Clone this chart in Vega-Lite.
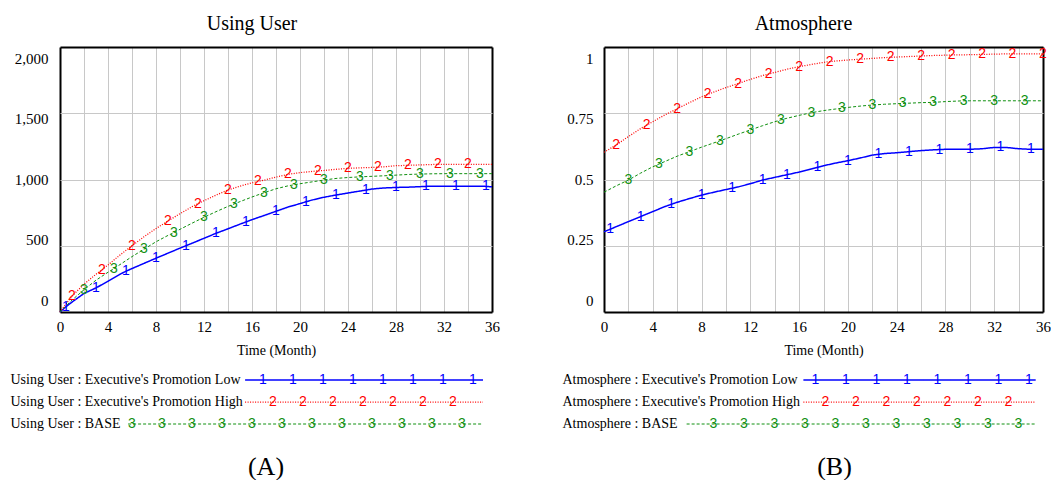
{
  "$schema": "https://vega.github.io/schema/vega-lite/v6.json",
  "padding": {"left": 10, "top": 13, "right": 0, "bottom": 0},
  "background": "white",
  "config": {
    "font": "Liberation Serif",
    "view": {"stroke": null},
    "axis": {"labelFont": "Liberation Serif", "labelColor": "black", "titleFont": "Liberation Serif", "titleColor": "black", "titleFontWeight": "normal", "domain": false, "ticks": false, "tickSize": 0},
    "title": {"font": "Liberation Serif", "fontWeight": "normal", "color": "black"}
  },
  "datasets": {
    "sim": [
      {"p":"U","s":"1","t":0,"v":0},{"p":"U","s":"1","t":0.5,"v":40,"mk":1},{"p":"U","s":"1","t":1,"v":75},{"p":"U","s":"1","t":2,"v":140},{"p":"U","s":"1","t":3,"v":182,"mk":1},{"p":"U","s":"1","t":4,"v":232},{"p":"U","s":"1","t":5,"v":285},{"p":"U","s":"1","t":5.5,"v":308,"mk":1},{"p":"U","s":"1","t":6,"v":328},{"p":"U","s":"1","t":7,"v":367},{"p":"U","s":"1","t":8,"v":406,"mk":1},{"p":"U","s":"1","t":9,"v":444},{"p":"U","s":"1","t":10,"v":482},{"p":"U","s":"1","t":10.5,"v":500,"mk":1},{"p":"U","s":"1","t":11,"v":519},{"p":"U","s":"1","t":12,"v":556},{"p":"U","s":"1","t":13,"v":594,"mk":1},{"p":"U","s":"1","t":14,"v":628},{"p":"U","s":"1","t":15,"v":663},{"p":"U","s":"1","t":15.5,"v":680,"mk":1},{"p":"U","s":"1","t":16,"v":697},{"p":"U","s":"1","t":17,"v":728},{"p":"U","s":"1","t":18,"v":760,"mk":1},{"p":"U","s":"1","t":19,"v":792},{"p":"U","s":"1","t":20,"v":818},{"p":"U","s":"1","t":20.5,"v":832,"mk":1},{"p":"U","s":"1","t":21,"v":845},{"p":"U","s":"1","t":22,"v":866},{"p":"U","s":"1","t":23,"v":883,"mk":1},{"p":"U","s":"1","t":24,"v":898},{"p":"U","s":"1","t":25,"v":913},{"p":"U","s":"1","t":25.5,"v":920,"mk":1},{"p":"U","s":"1","t":26,"v":928},{"p":"U","s":"1","t":27,"v":936},{"p":"U","s":"1","t":28,"v":940,"mk":1},{"p":"U","s":"1","t":29,"v":942},{"p":"U","s":"1","t":30,"v":946},{"p":"U","s":"1","t":30.5,"v":948,"mk":1},{"p":"U","s":"1","t":31,"v":950},{"p":"U","s":"1","t":32,"v":950},{"p":"U","s":"1","t":33,"v":950,"mk":1},{"p":"U","s":"1","t":34,"v":950},{"p":"U","s":"1","t":35,"v":950},{"p":"U","s":"1","t":35.5,"v":948,"mk":1},{"p":"U","s":"1","t":36,"v":945},
      {"p":"U","s":"2","t":0,"v":0},{"p":"U","s":"2","t":1,"v":120,"mk":1},{"p":"U","s":"2","t":2,"v":210},{"p":"U","s":"2","t":3,"v":285},{"p":"U","s":"2","t":3.5,"v":318,"mk":1},{"p":"U","s":"2","t":4,"v":355},{"p":"U","s":"2","t":5,"v":430},{"p":"U","s":"2","t":6,"v":500,"mk":1},{"p":"U","s":"2","t":7,"v":568},{"p":"U","s":"2","t":8,"v":630},{"p":"U","s":"2","t":9,"v":687,"mk":1},{"p":"U","s":"2","t":10,"v":742},{"p":"U","s":"2","t":11,"v":795},{"p":"U","s":"2","t":11.5,"v":818,"mk":1},{"p":"U","s":"2","t":12,"v":840},{"p":"U","s":"2","t":13,"v":882},{"p":"U","s":"2","t":14,"v":921,"mk":1},{"p":"U","s":"2","t":15,"v":950},{"p":"U","s":"2","t":16,"v":975},{"p":"U","s":"2","t":16.5,"v":985,"mk":1},{"p":"U","s":"2","t":17,"v":995},{"p":"U","s":"2","t":18,"v":1018},{"p":"U","s":"2","t":19,"v":1039,"mk":1},{"p":"U","s":"2","t":20,"v":1052},{"p":"U","s":"2","t":21,"v":1061},{"p":"U","s":"2","t":21.5,"v":1065,"mk":1},{"p":"U","s":"2","t":22,"v":1068},{"p":"U","s":"2","t":23,"v":1077},{"p":"U","s":"2","t":24,"v":1084,"mk":1},{"p":"U","s":"2","t":25,"v":1088},{"p":"U","s":"2","t":26,"v":1091},{"p":"U","s":"2","t":26.5,"v":1093,"mk":1},{"p":"U","s":"2","t":27,"v":1096},{"p":"U","s":"2","t":28,"v":1104},{"p":"U","s":"2","t":29,"v":1107,"mk":1},{"p":"U","s":"2","t":30,"v":1110},{"p":"U","s":"2","t":31,"v":1113},{"p":"U","s":"2","t":31.5,"v":1114,"mk":1},{"p":"U","s":"2","t":32,"v":1115},{"p":"U","s":"2","t":33,"v":1115},{"p":"U","s":"2","t":34,"v":1115,"mk":1},{"p":"U","s":"2","t":35,"v":1115},{"p":"U","s":"2","t":36,"v":1115},
      {"p":"U","s":"3","t":0,"v":0},{"p":"U","s":"3","t":1,"v":90},{"p":"U","s":"3","t":2,"v":168,"mk":1},{"p":"U","s":"3","t":3,"v":240},{"p":"U","s":"3","t":4,"v":300},{"p":"U","s":"3","t":4.5,"v":328,"mk":1},{"p":"U","s":"3","t":5,"v":358},{"p":"U","s":"3","t":6,"v":418},{"p":"U","s":"3","t":7,"v":474,"mk":1},{"p":"U","s":"3","t":8,"v":530},{"p":"U","s":"3","t":9,"v":578},{"p":"U","s":"3","t":9.5,"v":600,"mk":1},{"p":"U","s":"3","t":10,"v":624},{"p":"U","s":"3","t":11,"v":670},{"p":"U","s":"3","t":12,"v":715,"mk":1},{"p":"U","s":"3","t":13,"v":757},{"p":"U","s":"3","t":14,"v":797},{"p":"U","s":"3","t":14.5,"v":815,"mk":1},{"p":"U","s":"3","t":15,"v":833},{"p":"U","s":"3","t":16,"v":868},{"p":"U","s":"3","t":17,"v":900,"mk":1},{"p":"U","s":"3","t":18,"v":930},{"p":"U","s":"3","t":19,"v":952},{"p":"U","s":"3","t":19.5,"v":960,"mk":1},{"p":"U","s":"3","t":20,"v":968},{"p":"U","s":"3","t":21,"v":982},{"p":"U","s":"3","t":22,"v":996,"mk":1},{"p":"U","s":"3","t":23,"v":1008},{"p":"U","s":"3","t":24,"v":1015},{"p":"U","s":"3","t":25,"v":1020,"mk":1},{"p":"U","s":"3","t":26,"v":1024},{"p":"U","s":"3","t":27,"v":1028},{"p":"U","s":"3","t":27.5,"v":1030,"mk":1},{"p":"U","s":"3","t":28,"v":1033},{"p":"U","s":"3","t":29,"v":1038},{"p":"U","s":"3","t":30,"v":1041,"mk":1},{"p":"U","s":"3","t":31,"v":1043},{"p":"U","s":"3","t":32,"v":1044},{"p":"U","s":"3","t":32.5,"v":1044,"mk":1},{"p":"U","s":"3","t":33,"v":1044},{"p":"U","s":"3","t":34,"v":1044},{"p":"U","s":"3","t":35,"v":1044,"mk":1},{"p":"U","s":"3","t":36,"v":1044},
      {"p":"A","s":"1","t":0,"v":0.303},{"p":"A","s":"1","t":0.5,"v":0.312,"mk":1},{"p":"A","s":"1","t":1,"v":0.322},{"p":"A","s":"1","t":2,"v":0.341},{"p":"A","s":"1","t":3,"v":0.36,"mk":1},{"p":"A","s":"1","t":4,"v":0.379},{"p":"A","s":"1","t":5,"v":0.398},{"p":"A","s":"1","t":5.5,"v":0.406,"mk":1},{"p":"A","s":"1","t":6,"v":0.414},{"p":"A","s":"1","t":7,"v":0.428},{"p":"A","s":"1","t":8,"v":0.441,"mk":1},{"p":"A","s":"1","t":9,"v":0.452},{"p":"A","s":"1","t":10,"v":0.462},{"p":"A","s":"1","t":10.5,"v":0.467,"mk":1},{"p":"A","s":"1","t":11,"v":0.472},{"p":"A","s":"1","t":12,"v":0.484},{"p":"A","s":"1","t":13,"v":0.498,"mk":1},{"p":"A","s":"1","t":14,"v":0.508},{"p":"A","s":"1","t":15,"v":0.518,"mk":1},{"p":"A","s":"1","t":16,"v":0.528},{"p":"A","s":"1","t":17,"v":0.54},{"p":"A","s":"1","t":17.5,"v":0.546,"mk":1},{"p":"A","s":"1","t":18,"v":0.552},{"p":"A","s":"1","t":19,"v":0.562},{"p":"A","s":"1","t":20,"v":0.571,"mk":1},{"p":"A","s":"1","t":21,"v":0.581},{"p":"A","s":"1","t":22,"v":0.592},{"p":"A","s":"1","t":22.5,"v":0.595,"mk":1},{"p":"A","s":"1","t":23,"v":0.598},{"p":"A","s":"1","t":24,"v":0.601},{"p":"A","s":"1","t":25,"v":0.605,"mk":1},{"p":"A","s":"1","t":26,"v":0.609},{"p":"A","s":"1","t":27,"v":0.612},{"p":"A","s":"1","t":27.5,"v":0.613,"mk":1},{"p":"A","s":"1","t":28,"v":0.614},{"p":"A","s":"1","t":29,"v":0.614},{"p":"A","s":"1","t":30,"v":0.614,"mk":1},{"p":"A","s":"1","t":31,"v":0.616},{"p":"A","s":"1","t":32,"v":0.621},{"p":"A","s":"1","t":32.5,"v":0.621,"mk":1},{"p":"A","s":"1","t":33,"v":0.621},{"p":"A","s":"1","t":34,"v":0.616},{"p":"A","s":"1","t":35,"v":0.614,"mk":1},{"p":"A","s":"1","t":36,"v":0.614},
      {"p":"A","s":"2","t":0,"v":0.603},{"p":"A","s":"2","t":1,"v":0.63,"mk":1},{"p":"A","s":"2","t":2,"v":0.662},{"p":"A","s":"2","t":3,"v":0.692},{"p":"A","s":"2","t":3.5,"v":0.705,"mk":1},{"p":"A","s":"2","t":4,"v":0.718},{"p":"A","s":"2","t":5,"v":0.744},{"p":"A","s":"2","t":6,"v":0.767,"mk":1},{"p":"A","s":"2","t":7,"v":0.79},{"p":"A","s":"2","t":8,"v":0.812},{"p":"A","s":"2","t":8.5,"v":0.821,"mk":1},{"p":"A","s":"2","t":9,"v":0.83},{"p":"A","s":"2","t":10,"v":0.847},{"p":"A","s":"2","t":11,"v":0.862,"mk":1},{"p":"A","s":"2","t":12,"v":0.878},{"p":"A","s":"2","t":13,"v":0.892},{"p":"A","s":"2","t":13.5,"v":0.898,"mk":1},{"p":"A","s":"2","t":14,"v":0.904},{"p":"A","s":"2","t":15,"v":0.916},{"p":"A","s":"2","t":16,"v":0.926,"mk":1},{"p":"A","s":"2","t":17,"v":0.934},{"p":"A","s":"2","t":18,"v":0.942},{"p":"A","s":"2","t":18.5,"v":0.945,"mk":1},{"p":"A","s":"2","t":19,"v":0.947},{"p":"A","s":"2","t":20,"v":0.951},{"p":"A","s":"2","t":21,"v":0.954,"mk":1},{"p":"A","s":"2","t":22,"v":0.957},{"p":"A","s":"2","t":23,"v":0.96},{"p":"A","s":"2","t":23.5,"v":0.961,"mk":1},{"p":"A","s":"2","t":24,"v":0.962},{"p":"A","s":"2","t":25,"v":0.964},{"p":"A","s":"2","t":26,"v":0.966,"mk":1},{"p":"A","s":"2","t":27,"v":0.968},{"p":"A","s":"2","t":28,"v":0.969},{"p":"A","s":"2","t":28.5,"v":0.97,"mk":1},{"p":"A","s":"2","t":29,"v":0.97},{"p":"A","s":"2","t":30,"v":0.971},{"p":"A","s":"2","t":31,"v":0.972,"mk":1},{"p":"A","s":"2","t":32,"v":0.973},{"p":"A","s":"2","t":33,"v":0.974},{"p":"A","s":"2","t":33.5,"v":0.974,"mk":1},{"p":"A","s":"2","t":34,"v":0.974},{"p":"A","s":"2","t":35,"v":0.974},{"p":"A","s":"2","t":36,"v":0.974,"mk":1},
      {"p":"A","s":"3","t":0,"v":0.452},{"p":"A","s":"3","t":1,"v":0.476},{"p":"A","s":"3","t":2,"v":0.498,"mk":1},{"p":"A","s":"3","t":3,"v":0.524},{"p":"A","s":"3","t":4,"v":0.548},{"p":"A","s":"3","t":4.5,"v":0.558,"mk":1},{"p":"A","s":"3","t":5,"v":0.568},{"p":"A","s":"3","t":6,"v":0.588},{"p":"A","s":"3","t":7,"v":0.605,"mk":1},{"p":"A","s":"3","t":8,"v":0.622},{"p":"A","s":"3","t":9,"v":0.638},{"p":"A","s":"3","t":9.5,"v":0.646,"mk":1},{"p":"A","s":"3","t":10,"v":0.654},{"p":"A","s":"3","t":11,"v":0.671},{"p":"A","s":"3","t":12,"v":0.687,"mk":1},{"p":"A","s":"3","t":13,"v":0.703},{"p":"A","s":"3","t":14,"v":0.718},{"p":"A","s":"3","t":14.5,"v":0.725,"mk":1},{"p":"A","s":"3","t":15,"v":0.731},{"p":"A","s":"3","t":16,"v":0.742},{"p":"A","s":"3","t":17,"v":0.752,"mk":1},{"p":"A","s":"3","t":18,"v":0.76},{"p":"A","s":"3","t":19,"v":0.766},{"p":"A","s":"3","t":19.5,"v":0.769,"mk":1},{"p":"A","s":"3","t":20,"v":0.772},{"p":"A","s":"3","t":21,"v":0.777},{"p":"A","s":"3","t":22,"v":0.781,"mk":1},{"p":"A","s":"3","t":23,"v":0.784},{"p":"A","s":"3","t":24,"v":0.786},{"p":"A","s":"3","t":24.5,"v":0.787,"mk":1},{"p":"A","s":"3","t":25,"v":0.788},{"p":"A","s":"3","t":26,"v":0.79},{"p":"A","s":"3","t":27,"v":0.791,"mk":1},{"p":"A","s":"3","t":28,"v":0.794},{"p":"A","s":"3","t":29,"v":0.796},{"p":"A","s":"3","t":29.5,"v":0.797,"mk":1},{"p":"A","s":"3","t":30,"v":0.797},{"p":"A","s":"3","t":31,"v":0.797},{"p":"A","s":"3","t":32,"v":0.797,"mk":1},{"p":"A","s":"3","t":33,"v":0.797},{"p":"A","s":"3","t":34,"v":0.797},{"p":"A","s":"3","t":34.5,"v":0.797,"mk":1},{"p":"A","s":"3","t":35,"v":0.797},{"p":"A","s":"3","t":36,"v":0.797}
    ],
    "leg": [
      {"p":"U","s":"1","k":7},{"p":"U","s":"1","k":8},{"p":"U","s":"1","k":9},{"p":"U","s":"1","k":10},{"p":"U","s":"1","k":11},{"p":"U","s":"1","k":12},{"p":"U","s":"1","k":13},{"p":"U","s":"1","k":14},
      {"p":"U","s":"2","k":7},{"p":"U","s":"2","k":8},{"p":"U","s":"2","k":9},{"p":"U","s":"2","k":10},{"p":"U","s":"2","k":11},{"p":"U","s":"2","k":12},{"p":"U","s":"2","k":13},
      {"p":"U","s":"3","k":2},{"p":"U","s":"3","k":3},{"p":"U","s":"3","k":4},{"p":"U","s":"3","k":5},{"p":"U","s":"3","k":6},{"p":"U","s":"3","k":7},{"p":"U","s":"3","k":8},{"p":"U","s":"3","k":9},{"p":"U","s":"3","k":10},{"p":"U","s":"3","k":11},{"p":"U","s":"3","k":12},{"p":"U","s":"3","k":13},
      {"p":"A","s":"1","k":7},{"p":"A","s":"1","k":8},{"p":"A","s":"1","k":9},{"p":"A","s":"1","k":10},{"p":"A","s":"1","k":11},{"p":"A","s":"1","k":12},{"p":"A","s":"1","k":13},{"p":"A","s":"1","k":14},
      {"p":"A","s":"2","k":7},{"p":"A","s":"2","k":8},{"p":"A","s":"2","k":9},{"p":"A","s":"2","k":10},{"p":"A","s":"2","k":11},{"p":"A","s":"2","k":12},{"p":"A","s":"2","k":13},
      {"p":"A","s":"3","k":3},{"p":"A","s":"3","k":4},{"p":"A","s":"3","k":5},{"p":"A","s":"3","k":6},{"p":"A","s":"3","k":7},{"p":"A","s":"3","k":8},{"p":"A","s":"3","k":9},{"p":"A","s":"3","k":10},{"p":"A","s":"3","k":11},{"p":"A","s":"3","k":12},{"p":"A","s":"3","k":13}
    ]
  },
  "columns": 2,
  "spacing": {"row": 57, "column": 112},
  "bounds": "flush",
  "concat": [
    {
      "width": 432, "height": 265,
      "title": {"text": "Using User", "fontSize": 20, "anchor": "middle", "frame": "group", "dx": -24, "offset": -3, "baseline": "alphabetic"},
      "data": {"name": "sim"},
      "transform": [{"filter": "datum.p == 'U'"}],
      "encoding": {
        "x": {"field": "t", "type": "quantitative", "scale": {"domain": [0, 36], "nice": false, "zero": false},
          "axis": {"values": [0,2,4,6,8,10,12,14,16,18,20,22,24,26,28,30,32,34,36], "labelExpr": "datum.value % 4 == 0 ? datum.label : ''", "labelFlush": false, "labelOverlap": false, "labelFontSize": 15, "labelPadding": 7, "title": "Time (Month)", "titleFontSize": 14, "titlePadding": 9, "grid": true,
            "gridColor": {"condition": {"test": "datum.value == 0 || datum.value == 36", "value": "black"}, "value": "#c8c8c8"},
            "gridWidth": {"condition": {"test": "datum.value == 0 || datum.value == 36", "value": 2}, "value": 1}}},
        "y": {"field": "v", "type": "quantitative", "scale": {"domain": [0, 2000], "nice": false},
          "axis": {"values": [0, 500, 1000, 1500, 2000], "format": ",d", "labelFontSize": 15, "labelPadding": 12, "labelOffset": {"expr": "-12 + datum.value / 2000 * 23"}, "title": null, "grid": true,
            "gridColor": {"condition": {"test": "datum.value == 0 || datum.value == 2000", "value": "black"}, "value": "#c8c8c8"},
            "gridWidth": {"condition": {"test": "datum.value == 0 || datum.value == 2000", "value": 2}, "value": 1}}},
        "color": {"field": "s", "type": "nominal", "scale": {"domain": ["1", "2", "3"], "range": ["#0000ff", "#ff0000", "#109010"]}, "legend": null}
      },
      "layer": [
        {"mark": {"type": "line"},
          "encoding": {
            "strokeDash": {"field": "s", "type": "nominal", "scale": {"domain": ["1", "2", "3"], "range": [[1, 0], [1, 1.5], [3, 2]]}, "legend": null},
            "strokeWidth": {"field": "s", "type": "nominal", "scale": {"domain": ["1", "2", "3"], "range": [1.5, 1, 1.2]}, "legend": null}}},
        {"transform": [{"filter": "datum.mk == 1"}],
          "mark": {"type": "text", "font": "Liberation Sans", "fontSize": 14, "baseline": "middle", "align": "center"},
          "encoding": {"text": {"field": "s"}}}
      ]
    },
    {
      "width": 439, "height": 265,
      "title": {"text": "Atmosphere", "fontSize": 20, "anchor": "middle", "frame": "group", "dx": -20, "offset": -3, "baseline": "alphabetic"},
      "data": {"name": "sim"},
      "transform": [{"filter": "datum.p == 'A'"}],
      "encoding": {
        "x": {"field": "t", "type": "quantitative", "scale": {"domain": [0, 36], "nice": false, "zero": false},
          "axis": {"values": [0,2,4,6,8,10,12,14,16,18,20,22,24,26,28,30,32,34,36], "labelExpr": "datum.value % 4 == 0 ? datum.label : ''", "labelFlush": false, "labelOverlap": false, "labelFontSize": 15, "labelPadding": 7, "title": "Time (Month)", "titleFontSize": 14, "titlePadding": 9, "grid": true,
            "gridColor": {"condition": {"test": "datum.value == 0 || datum.value == 36", "value": "black"}, "value": "#c8c8c8"},
            "gridWidth": {"condition": {"test": "datum.value == 0 || datum.value == 36", "value": 2}, "value": 1}}},
        "y": {"field": "v", "type": "quantitative", "scale": {"domain": [0, 1], "nice": false},
          "axis": {"values": [0, 0.25, 0.5, 0.75, 1], "format": ".2~f", "labelFontSize": 15, "labelPadding": 11, "labelOffset": {"expr": "-12 + datum.value * 23"}, "title": null, "grid": true,
            "gridColor": {"condition": {"test": "datum.value == 0 || datum.value == 1", "value": "black"}, "value": "#c8c8c8"},
            "gridWidth": {"condition": {"test": "datum.value == 0 || datum.value == 1", "value": 2}, "value": 1}}},
        "color": {"field": "s", "type": "nominal", "scale": {"domain": ["1", "2", "3"], "range": ["#0000ff", "#ff0000", "#109010"]}, "legend": null}
      },
      "layer": [
        {"mark": {"type": "line"},
          "encoding": {
            "strokeDash": {"field": "s", "type": "nominal", "scale": {"domain": ["1", "2", "3"], "range": [[1, 0], [1, 1.5], [3, 2]]}, "legend": null},
            "strokeWidth": {"field": "s", "type": "nominal", "scale": {"domain": ["1", "2", "3"], "range": [1.5, 1, 1.2]}, "legend": null}}},
        {"transform": [{"filter": "datum.mk == 1"}],
          "mark": {"type": "text", "font": "Liberation Sans", "fontSize": 14, "baseline": "middle", "align": "center"},
          "encoding": {"text": {"field": "s"}}}
      ]
    },
    {
      "width": 432, "height": 66,
      "title": {"text": "(A)", "orient": "bottom", "fontSize": 26, "anchor": "middle", "frame": "group", "dx": -10, "offset": 40, "baseline": "alphabetic"},
      "encoding": {
        "y": {"field": "s", "type": "nominal", "scale": {"domain": ["1", "2", "3"], "paddingInner": 0, "paddingOuter": 0},
          "axis": {"title": null, "grid": false, "labelAlign": "left", "labelBaseline": "middle", "labelPadding": 50, "labelLimit": 400, "labelFontSize": 14,
            "labelExpr": "'Using User : ' + (datum.value == '1' ? \"Executive's Promotion Low\" : datum.value == '2' ? \"Executive's Promotion High\" : 'BASE')"}},
        "color": {"field": "s", "type": "nominal", "scale": {"domain": ["1", "2", "3"], "range": ["#0000ff", "#ff0000", "#109010"]}, "legend": null}
      },
      "layer": [
        {"data": {"values": [{"s": "1"}, {"s": "2"}]}, "mark": "rule",
          "encoding": {"x": {"datum": 6.17, "type": "quantitative", "scale": {"domain": [0, 14.4], "nice": false, "zero": false}, "axis": null}, "x2": {"datum": 14.1},
            "strokeDash": {"field": "s", "type": "nominal", "scale": {"domain": ["1", "2", "3"], "range": [[1, 0], [1, 1.5], [3, 2]]}, "legend": null},
            "strokeWidth": {"field": "s", "type": "nominal", "scale": {"domain": ["1", "2", "3"], "range": [1.5, 1, 1.2]}, "legend": null}}},
        {"data": {"values": [{"s": "3"}]}, "mark": "rule",
          "encoding": {"x": {"datum": 2.27, "type": "quantitative", "axis": null}, "x2": {"datum": 14.1},
            "strokeDash": {"field": "s", "type": "nominal", "scale": {"domain": ["1", "2", "3"], "range": [[1, 0], [1, 1.5], [3, 2]]}, "legend": null},
            "strokeWidth": {"field": "s", "type": "nominal", "scale": {"domain": ["1", "2", "3"], "range": [1.5, 1, 1.2]}, "legend": null}}},
        {"data": {"name": "leg"}, "transform": [{"filter": "datum.p == 'U' && datum.s == '1'"}],
          "mark": {"type": "text", "font": "Liberation Sans", "fontSize": 14, "baseline": "middle", "align": "center", "dx": -7},
          "encoding": {"x": {"field": "k", "type": "quantitative", "axis": null}, "text": {"field": "s"}}},
        {"data": {"name": "leg"}, "transform": [{"filter": "datum.p == 'U' && datum.s == '2'"}],
          "mark": {"type": "text", "font": "Liberation Sans", "fontSize": 14, "baseline": "middle", "align": "center", "dx": 3},
          "encoding": {"x": {"field": "k", "type": "quantitative", "axis": null}, "text": {"field": "s"}}},
        {"data": {"name": "leg"}, "transform": [{"filter": "datum.p == 'U' && datum.s == '3'"}],
          "mark": {"type": "text", "font": "Liberation Sans", "fontSize": 14, "baseline": "middle", "align": "center", "dx": 12},
          "encoding": {"x": {"field": "k", "type": "quantitative", "axis": null}, "text": {"field": "s"}}}
      ]
    },
    {
      "width": 439, "height": 66,
      "title": {"text": "(B)", "orient": "bottom", "fontSize": 26, "anchor": "middle", "frame": "group", "dx": 11, "offset": 40, "baseline": "alphabetic"},
      "encoding": {
        "y": {"field": "s", "type": "nominal", "scale": {"domain": ["1", "2", "3"], "paddingInner": 0, "paddingOuter": 0},
          "axis": {"title": null, "grid": false, "labelAlign": "left", "labelBaseline": "middle", "labelPadding": 42, "labelLimit": 400, "labelFontSize": 14,
            "labelExpr": "'Atmosphere : ' + (datum.value == '1' ? \"Executive's Promotion Low\" : datum.value == '2' ? \"Executive's Promotion High\" : 'BASE')"}},
        "color": {"field": "s", "type": "nominal", "scale": {"domain": ["1", "2", "3"], "range": ["#0000ff", "#ff0000", "#109010"]}, "legend": null}
      },
      "layer": [
        {"data": {"values": [{"s": "1"}, {"s": "2"}]}, "mark": "rule",
          "encoding": {"x": {"datum": 6.54, "type": "quantitative", "scale": {"domain": [0, 14.4], "nice": false, "zero": false}, "axis": null}, "x2": {"datum": 14.16},
            "strokeDash": {"field": "s", "type": "nominal", "scale": {"domain": ["1", "2", "3"], "range": [[1, 0], [1, 1.5], [3, 2]]}, "legend": null},
            "strokeWidth": {"field": "s", "type": "nominal", "scale": {"domain": ["1", "2", "3"], "range": [1.5, 1, 1.2]}, "legend": null}}},
        {"data": {"values": [{"s": "3"}]}, "mark": "rule",
          "encoding": {"x": {"datum": 2.71, "type": "quantitative", "axis": null}, "x2": {"datum": 14.16},
            "strokeDash": {"field": "s", "type": "nominal", "scale": {"domain": ["1", "2", "3"], "range": [[1, 0], [1, 1.5], [3, 2]]}, "legend": null},
            "strokeWidth": {"field": "s", "type": "nominal", "scale": {"domain": ["1", "2", "3"], "range": [1.5, 1, 1.2]}, "legend": null}}},
        {"data": {"name": "leg"}, "transform": [{"filter": "datum.p == 'A' && datum.s == '1'"}],
          "mark": {"type": "text", "font": "Liberation Sans", "fontSize": 14, "baseline": "middle", "align": "center", "dx": -2},
          "encoding": {"x": {"field": "k", "type": "quantitative", "axis": null}, "text": {"field": "s"}}},
        {"data": {"name": "leg"}, "transform": [{"filter": "datum.p == 'A' && datum.s == '2'"}],
          "mark": {"type": "text", "font": "Liberation Sans", "fontSize": 14, "baseline": "middle", "align": "center", "dx": 8},
          "encoding": {"x": {"field": "k", "type": "quantitative", "axis": null}, "text": {"field": "s"}}},
        {"data": {"name": "leg"}, "transform": [{"filter": "datum.p == 'A' && datum.s == '3'"}],
          "mark": {"type": "text", "font": "Liberation Sans", "fontSize": 14, "baseline": "middle", "align": "center", "dx": 18},
          "encoding": {"x": {"field": "k", "type": "quantitative", "axis": null}, "text": {"field": "s"}}}
      ]
    }
  ]
}
